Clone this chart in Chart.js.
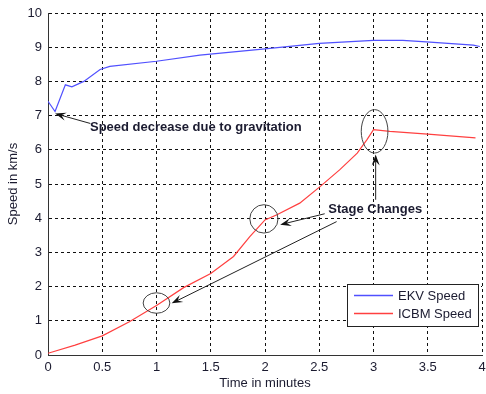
<!DOCTYPE html>
<html>
<head>
<meta charset="utf-8">
<script src="https://cdn.jsdelivr.net/npm/chart.js@4"></script>
<style>
  html, body { margin: 0; padding: 0; background: #fff; }
  canvas { display: block; }
</style>
</head>
<body>
<canvas id="speed_chart" width="486" height="394"></canvas>
<script>
    "use strict";

    // Vitesse de l'EKV (km/s) en fonction du temps (min)
    var ekvTime = [0, 0.065, 0.16, 0.22, 0.33, 0.48, 0.57, 1.0, 1.4, 2.0, 2.5, 3.0, 3.27, 3.52, 3.92, 3.98];
    var ekvSpeed = [7.42, 7.12, 7.9, 7.84, 8.0, 8.35, 8.44, 8.59, 8.77, 8.95, 9.11, 9.2, 9.2, 9.15, 9.06, 9.02];

    // Vitesse de l'ICBM
    var icbmTime = [0, 0.25, 0.5, 0.75, 1.0, 1.25, 1.5, 1.71, 1.86, 2.0, 2.11, 2.32, 2.51, 2.69, 2.85, 2.94, 3.0, 3.15, 3.5, 3.94];
    var icbmSpeed = [0.05, 0.29, 0.56, 0.97, 1.45, 1.97, 2.38, 2.88, 3.46, 3.95, 4.1, 4.44, 4.93, 5.42, 5.9, 6.3, 6.59, 6.54, 6.46, 6.35];

    var seriesNames = ["EKV Speed", "ICBM Speed"];
    var seriesColors = ["#5050ff", "#ff4040"];
    var xTicks = [0, 0.5, 1, 1.5, 2, 2.5, 3, 3.5, 4];
    var yTicks = [0, 1, 2, 3, 4, 5, 6, 7, 8, 9, 10];

    // Annotations (coordonnées dans le repère des données)
    var noteTexts = ["Speed decrease due to gravitation", "Stage Changes"];
    var noteAnchors = [[0.387, 6.64], [2.583, 4.27]];
    var ellipseCenters = [[1.0, 1.52], [1.99, 3.98], [3.01, 6.54]];
    var ellipseRadii = [[0.123, 0.30], [0.13, 0.415], [0.123, 0.635]];
    var arrowTails = [[0.39, 6.77], [2.55, 4.13], [2.66, 3.9], [3.02, 4.54]];
    var arrowHeads = [[0.065, 7.06], [2.14, 3.81], [1.14, 1.51], [3.02, 5.86]];

    var FONT = "'Liberation Sans', Arial, sans-serif";
    var INK = "#1b1b30";

    function toPoints(xs, ys) {
        return xs.map(function (x, i) { return {x: x, y: ys[i]}; });
    }

    function drawArrow(ctx, x1, y1, x2, y2) {
        var ang = Math.atan2(y2 - y1, x2 - x1);
        var len = 11, half = 4;
        ctx.beginPath();
        ctx.moveTo(x1, y1);
        ctx.lineTo(x2 - Math.cos(ang) * 6, y2 - Math.sin(ang) * 6);
        ctx.stroke();
        ctx.beginPath();
        ctx.moveTo(x2, y2);
        ctx.lineTo(x2 - Math.cos(ang) * len + Math.sin(ang) * half, y2 - Math.sin(ang) * len - Math.cos(ang) * half);
        ctx.lineTo(x2 - Math.cos(ang) * len * 0.6, y2 - Math.sin(ang) * len * 0.6);
        ctx.lineTo(x2 - Math.cos(ang) * len - Math.sin(ang) * half, y2 - Math.sin(ang) * len + Math.cos(ang) * half);
        ctx.closePath();
        ctx.fill();
    }

    var decorations = {
        id: "decorations",
        beforeDraw: function (chart) {
            var ctx = chart.ctx;
            ctx.save();
            ctx.fillStyle = "#fff";
            ctx.fillRect(0, 0, chart.width, chart.height);
            ctx.restore();
        },
        afterDatasetsDraw: function (chart) {
            var ctx = chart.ctx, xs = chart.scales.x, ys = chart.scales.y, area = chart.chartArea;
            ctx.save();

            // ellipses autour des changements d'étage
            ctx.strokeStyle = "#444";
            ctx.lineWidth = 1;
            ellipseCenters.forEach(function (c, i) {
                var cx = xs.getPixelForValue(c[0]), cy = ys.getPixelForValue(c[1]);
                var rx = xs.getPixelForValue(c[0] + ellipseRadii[i][0]) - cx;
                var ry = cy - ys.getPixelForValue(c[1] + ellipseRadii[i][1]);
                ctx.beginPath();
                ctx.ellipse(cx, cy, rx, ry, 0, 0, Math.PI * 2);
                ctx.stroke();
            });

            // flèches
            ctx.strokeStyle = "#222";
            ctx.fillStyle = "#111";
            arrowTails.forEach(function (t, i) {
                var h = arrowHeads[i];
                drawArrow(ctx, xs.getPixelForValue(t[0]), ys.getPixelForValue(t[1]),
                    xs.getPixelForValue(h[0]), ys.getPixelForValue(h[1]));
            });

            // textes
            ctx.fillStyle = INK;
            ctx.font = "bold 13px " + FONT;
            ctx.textBaseline = "middle";
            ctx.textAlign = "left";
            noteTexts.forEach(function (txt, i) {
                ctx.fillText(txt, xs.getPixelForValue(noteAnchors[i][0]), ys.getPixelForValue(noteAnchors[i][1]));
            });

            // titres des axes
            ctx.font = "13px " + FONT;
            ctx.textAlign = "center";
            ctx.fillText("Time in minutes", (area.left + area.right) / 2, 383);
            ctx.save();
            ctx.translate(13, (area.top + area.bottom) / 2);
            ctx.rotate(-Math.PI / 2);
            ctx.fillText("Speed in km/s", 0, 0);
            ctx.restore();

            // légende
            var bx = area.right - 135, by = area.bottom - 71, bw = 131, bh = 42;
            ctx.fillStyle = "#fff";
            ctx.fillRect(bx, by, bw, bh);
            ctx.strokeStyle = "#222";
            ctx.strokeRect(bx + 0.5, by + 0.5, bw, bh);
            seriesNames.forEach(function (name, i) {
                var ly = by + 11 + i * 18;
                ctx.strokeStyle = seriesColors[i];
                ctx.lineWidth = 1.5;
                ctx.beginPath();
                ctx.moveTo(bx + 7, ly + 0.5);
                ctx.lineTo(bx + 46, ly + 0.5);
                ctx.stroke();
                ctx.fillStyle = INK;
                ctx.textAlign = "left";
                ctx.fillText(name, bx + 51, ly + 1);
            });
            ctx.restore();
        }
    };

    new Chart(document.getElementById("speed_chart"), {
        type: "line",
        data: {
            datasets: [{
                label: seriesNames[0],
                data: toPoints(ekvTime, ekvSpeed),
                borderColor: seriesColors[0],
                borderWidth: 1.2,
                pointRadius: 0,
                tension: 0
            }, {
                label: seriesNames[1],
                data: toPoints(icbmTime, icbmSpeed),
                borderColor: seriesColors[1],
                borderWidth: 1.2,
                pointRadius: 0,
                tension: 0
            }]
        },
        options: {
            responsive: false,
            animation: false,
            devicePixelRatio: 1,
            layout: {padding: {top: 13, right: 4, left: 0, bottom: 0}},
            plugins: {legend: {display: false}, tooltip: {enabled: false}},
            scales: {
                x: {
                    type: "linear",
                    min: 0,
                    max: 4,
                    afterBuildTicks: function (scale) {
                        scale.ticks = xTicks.map(function (v) { return {value: v}; });
                    },
                    afterFit: function (scale) {
                        scale.height = 39;
                        scale.paddingLeft = 0;
                        scale.paddingRight = 0;
                    },
                    ticks: {
                        color: INK, font: {family: FONT, size: 13}, padding: 5, maxRotation: 0,
                        callback: function (v) { return String(v); }
                    },
                    grid: {color: "#111", lineWidth: 1, drawTicks: false},
                    border: {display: true, color: "#333", width: 1, dash: [3, 3]}
                },
                y: {
                    min: 0,
                    max: 10,
                    afterBuildTicks: function (scale) {
                        scale.ticks = yTicks.map(function (v) { return {value: v}; });
                    },
                    afterFit: function (scale) {
                        scale.width = 48;
                        scale.paddingTop = 0;
                        scale.paddingBottom = 0;
                    },
                    ticks: {
                        color: INK, font: {family: FONT, size: 13}, padding: 6,
                        callback: function (v) { return String(v); }
                    },
                    grid: {color: "#111", lineWidth: 1, drawTicks: false},
                    border: {display: true, color: "#333", width: 1, dash: [3, 3]}
                }
            }
        },
        plugins: [decorations]
    });
</script>
</body>
</html>
